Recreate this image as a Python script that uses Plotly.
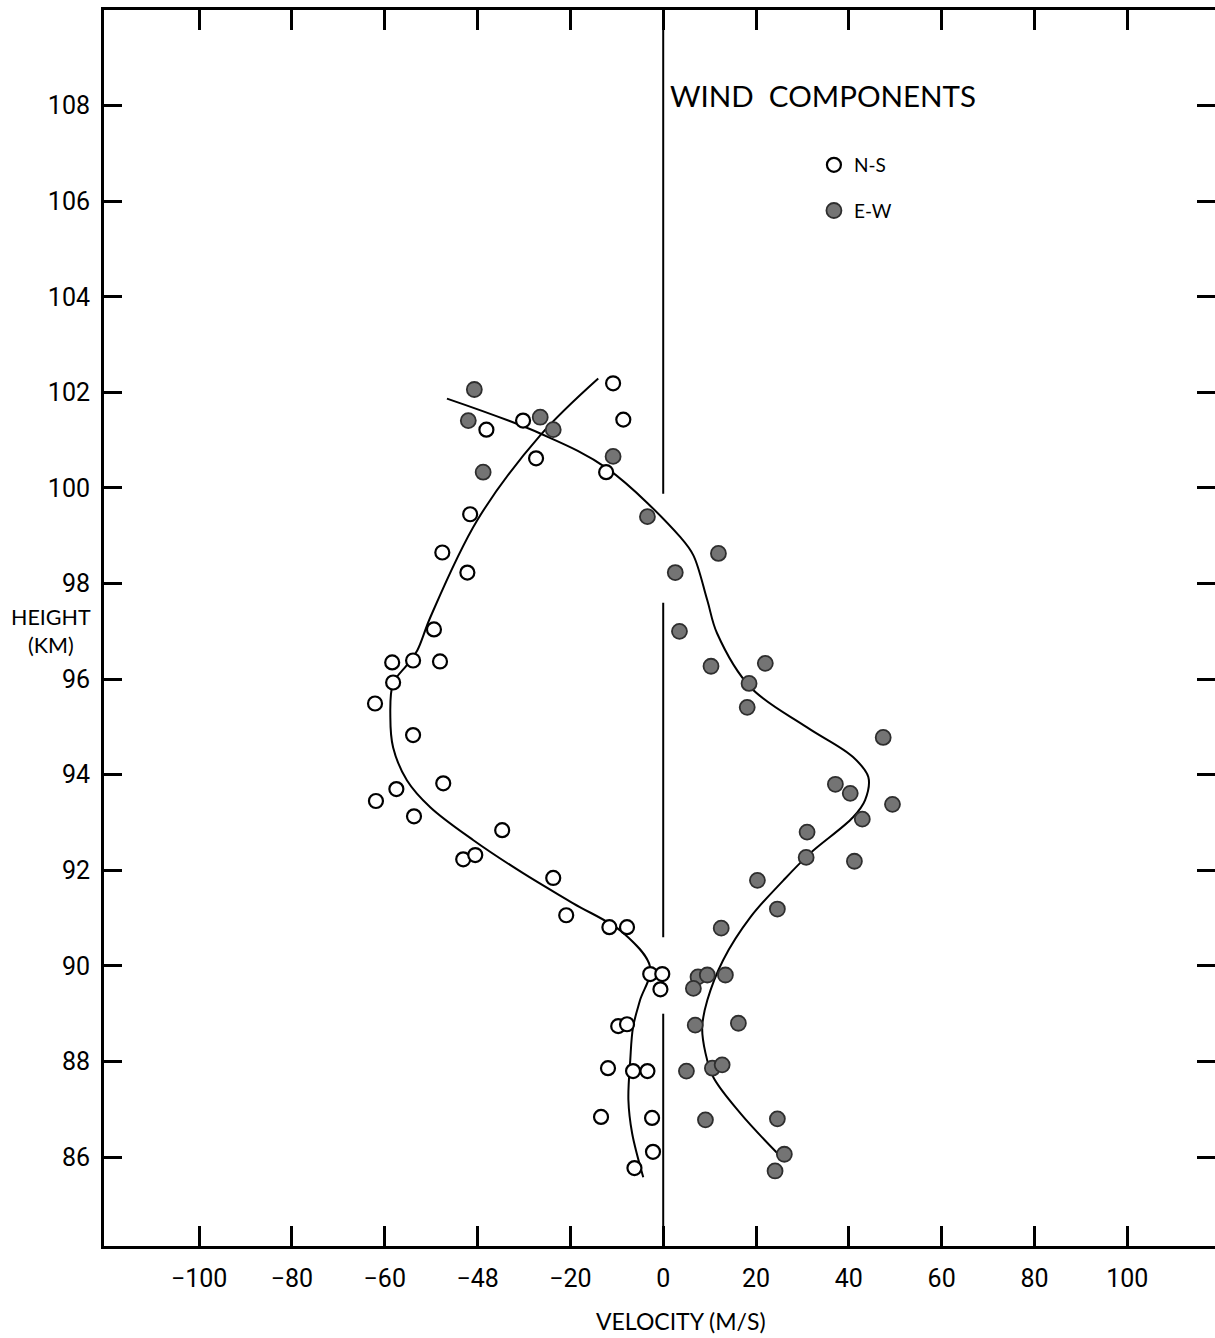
import plotly.graph_objects as go

# Measured wind components (m/s) against height (km)
ns_velocity = [-10.8, -8.6, -30.2, -38.1, -27.4, -12.3, -41.6, -47.6, -42.2, -49.4,
               -58.4, -53.9, -48.1, -58.2, -62.1, -53.9, -47.4, -57.5, -61.9, -53.7,
               -34.7, -43.1, -40.5, -23.7, -20.9, -11.6, -7.8, -2.8, -0.2, -0.6,
               -9.7, -7.8, -11.9, -6.5, -3.4, -13.4, -2.4, -2.2, -6.2]
ns_height = [102.19, 101.43, 101.41, 101.22, 100.62, 100.33, 99.45, 98.65, 98.23, 97.04,
             96.35, 96.39, 96.37, 95.93, 95.49, 94.83, 93.82, 93.70, 93.45, 93.13,
             92.84, 92.23, 92.32, 91.84, 91.06, 90.81, 90.81, 89.83, 89.83, 89.51,
             88.74, 88.78, 87.86, 87.80, 87.80, 86.84, 86.82, 86.11, 85.77]

ew_velocity = [-40.7, -42.0, -26.5, -23.7, -10.8, -38.8, -3.4, 11.9, 2.6, 3.5,
               10.3, 22.0, 18.5, 18.1, 47.4, 37.1, 40.3, 49.4, 42.9, 31.0,
               30.8, 41.2, 20.3, 24.6, 12.5, 7.5, 9.5, 6.5, 13.4, 6.9,
               16.2, 5.0, 10.6, 12.7, 9.1, 24.6, 26.1, 24.1]
ew_height = [102.06, 101.41, 101.48, 101.22, 100.66, 100.33, 99.40, 98.63, 98.23, 97.00,
             96.27, 96.33, 95.91, 95.41, 94.78, 93.80, 93.61, 93.38, 93.07, 92.80,
             92.27, 92.19, 91.79, 91.19, 90.79, 89.77, 89.81, 89.53, 89.81, 88.76,
             88.80, 87.80, 87.86, 87.93, 86.78, 86.80, 86.06, 85.71]

# Smoothed profiles drawn through the measurements
ns_fit_velocity = [-14.0, -26.5, -40.1, -50.2, -53.0, -55.2, -58.2, -58.8, -58.2, -55.2,
                   -50.2, -40.9, -30.2, -19.4, -8.6, -2.8, -5.0, -6.5, -7.1, -7.5, -6.7, -4.3]
ns_fit_height = [102.29, 101.10, 99.32, 97.29, 96.60, 96.30, 95.91, 95.20, 94.57, 93.88,
                 93.32, 92.63, 91.94, 91.31, 90.69, 89.97, 89.28, 88.72, 88.03, 87.19, 86.50, 85.58]

ew_fit_velocity = [-46.6, -26.5, -12.1, 3.7, 6.5, 9.5, 11.6, 18.8, 31.0, 40.9, 44.2, 43.5,
                   40.9, 31.7, 25.9, 18.8, 12.9, 9.5, 8.4, 9.1, 10.8, 16.6, 24.6]
ew_fit_height = [101.87, 101.14, 100.41, 98.97, 98.59, 97.65, 96.96, 95.83, 94.99, 94.37, 93.95, 93.47,
                 93.11, 92.36, 91.79, 91.02, 90.12, 89.28, 88.72, 88.18, 87.67, 86.92, 86.08]

# Zero-velocity reference line, broken around the curves
zero_line_segments = [(99.88, 110.0), (90.6, 97.6), (84.14, 89.0)]

height_ticks = list(range(86, 110, 2))
velocity_ticks = [-100, -80, -60, -40, -20, 0, 20, 40, 60, 80, 100]
velocity_tick_text = ["\u2212100", "\u221280", "\u221260", "\u221248", "\u221220",
                      "0", "20", "40", "60", "80", "100"]

X_RANGE = [-120.5, 118.9]
Y_RANGE = [84.14, 110.0]

NUMBERS = "Roboto, Liberation Sans, sans-serif"
LABEL = "Lato, Open Sans, sans-serif"

fig = go.Figure()

zx, zy = [], []
for lo, hi in zero_line_segments:
    zx += [0, 0, None]
    zy += [lo, hi, None]
fig.add_trace(go.Scatter(x=zx, y=zy, mode="lines", line=dict(color="black", width=2),
                         showlegend=False, hoverinfo="skip", cliponaxis=False))

fig.add_trace(go.Scatter(x=ns_fit_velocity, y=ns_fit_height, mode="lines",
                         line=dict(color="black", width=2, shape="spline", smoothing=1.0),
                         showlegend=False, hoverinfo="skip"))
fig.add_trace(go.Scatter(x=ew_fit_velocity, y=ew_fit_height, mode="lines",
                         line=dict(color="black", width=2, shape="spline", smoothing=1.0),
                         showlegend=False, hoverinfo="skip"))

fig.add_trace(go.Scatter(x=ns_velocity, y=ns_height, mode="markers", name="N-S",
                         legendgroup="ns",
                         marker=dict(symbol="circle", size=14, color="white",
                                     line=dict(color="black", width=2.2))))
fig.add_trace(go.Scatter(x=ew_velocity, y=ew_height, mode="markers", name="E-W",
                         legendgroup="ew",
                         marker=dict(symbol="circle", size=15, color="#747474",
                                     line=dict(color="#2e2e2e", width=1.8))))

# right-hand tick marks (the frame line itself runs off the page)
fig.add_trace(go.Scatter(x=[None], y=[None], yaxis="y2", showlegend=False, hoverinfo="skip"))

fig.update_layout(
    width=1215, height=1338,
    margin=dict(l=104, r=0, t=10, b=92),
    paper_bgcolor="white", plot_bgcolor="white",
    showlegend=True,
    legend=dict(x=0.639, y=0.89, xanchor="left", yanchor="top",
                bgcolor="rgba(0,0,0,0)", tracegroupgap=18,
                font=dict(family=LABEL, size=19, color="black")),
    xaxis=dict(range=X_RANGE, showgrid=False, zeroline=False,
               showline=True, linecolor="black", linewidth=3, mirror="ticks",
               ticks="inside", ticklen=20, tickwidth=2.5, tickcolor="black",
               tickvals=velocity_ticks, ticktext=velocity_tick_text,
               ticklabelstandoff=8,
               tickfont=dict(family=NUMBERS, size=25, color="black")),
    yaxis=dict(range=Y_RANGE, showgrid=False, zeroline=False,
               showline=True, linecolor="black", linewidth=3, mirror=False,
               ticks="inside", ticklen=18, tickwidth=2.5, tickcolor="black",
               tickvals=height_ticks, ticktext=[str(t) for t in height_ticks],
               ticklabelstandoff=6,
               tickfont=dict(family=NUMBERS, size=25, color="black")),
    yaxis2=dict(range=Y_RANGE, overlaying="y", side="right", showgrid=False,
                zeroline=False, showline=False, ticks="inside", ticklen=18,
                tickwidth=2.5, tickcolor="black", tickvals=height_ticks,
                showticklabels=False),
    annotations=[
        dict(text="WIND&nbsp;&nbsp;COMPONENTS", xref="paper", yref="paper",
             x=(668 - 104) / 1111, y=(1246 - 95) / 1236, xanchor="left", yanchor="middle",
             showarrow=False, font=dict(family=LABEL, size=29.5, color="black")),
        dict(text="HEIGHT<br>(KM)", xref="paper", yref="paper",
             x=(51 - 104) / 1111, y=(1246 - 631) / 1236, xanchor="center", yanchor="middle",
             showarrow=False, font=dict(family=LABEL, size=21.5, color="black")),
        dict(text="VELOCITY (M/S)", xref="paper", yref="paper",
             x=(681 - 104) / 1111, y=(1246 - 1321) / 1236, xanchor="center", yanchor="middle",
             showarrow=False, font=dict(family=LABEL, size=23, color="black")),
    ],
)

fig.write_html("out.html")
